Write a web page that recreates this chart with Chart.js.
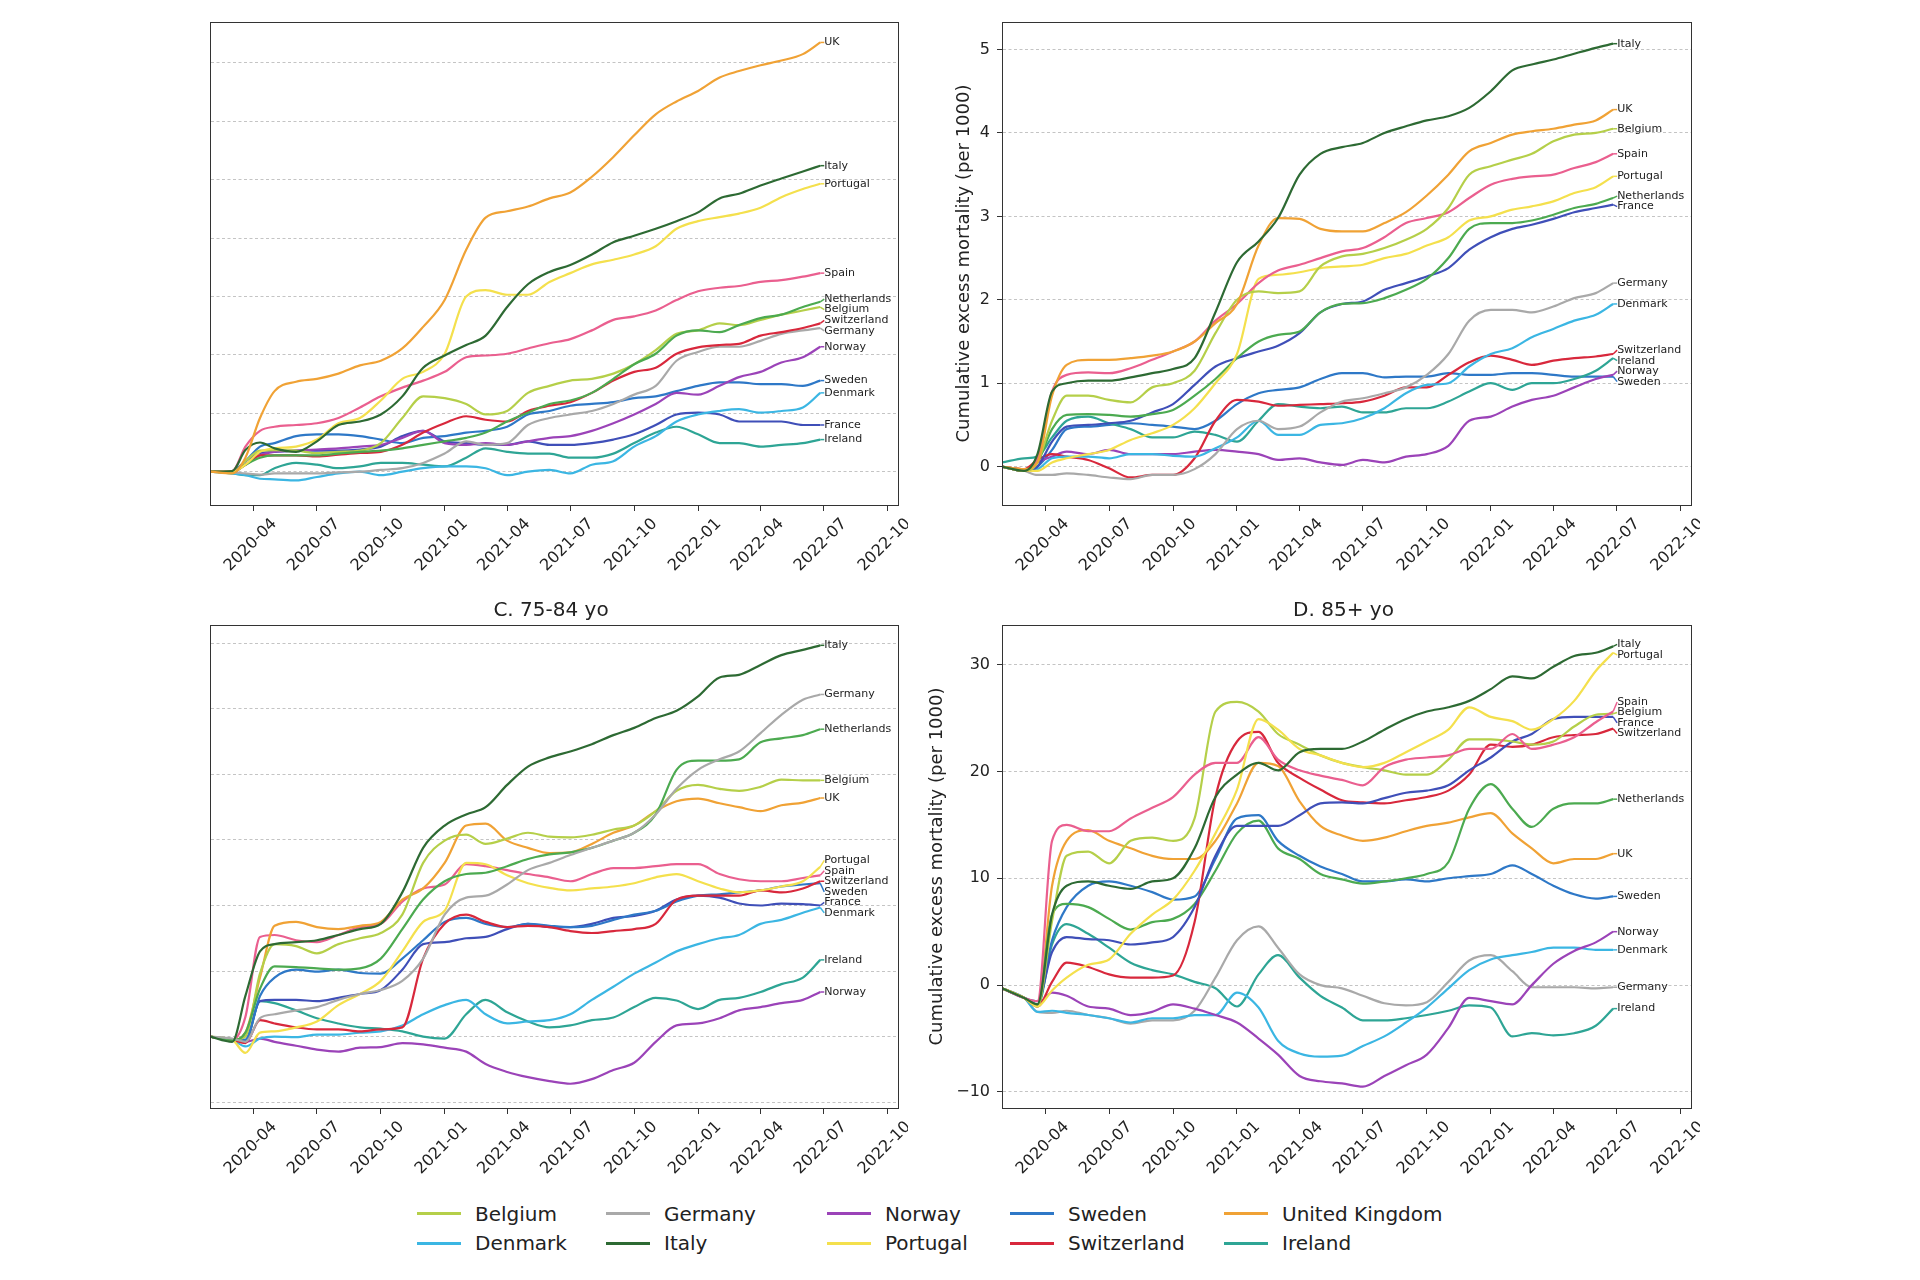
<!DOCTYPE html>
<html>
<head>
<meta charset="utf-8">
<script src="https://cdn.jsdelivr.net/npm/chart.js@4.4.1/dist/chart.umd.min.js"></script>
<style>
  html, body { margin: 0; padding: 0; background: #fff; }
  body { width: 1920px; height: 1280px; position: relative; overflow: hidden; font-family: "DejaVu Sans", sans-serif; }
  canvas { position: absolute; }
  .key { position: absolute; display: flex; align-items: center; font-size: 20px; color: #222; white-space: nowrap; transform: translateY(-50%); }
  .key i { display: inline-block; width: 44px; height: 3px; margin-right: 14px; }
</style>
</head>
<body>
<canvas id="chartA" width="800" height="600" style="left:108px;top:0"></canvas>
<canvas id="chartB" width="800" height="600" style="left:900px;top:0"></canvas>
<canvas id="chartC" width="800" height="610" style="left:108px;top:590px"></canvas>
<canvas id="chartD" width="800" height="610" style="left:900px;top:590px"></canvas>
<div id="legend"></div>
<script>
// sample dates (roughly monthly, denser around the spring 2020 jump)
const dates = ["2020-01-29","2020-03-01","2020-03-20","2020-04-10","2020-05-01","2020-06-01","2020-07-01","2020-08-01",
  "2020-09-01","2020-10-01","2020-11-01","2020-12-01","2021-01-01","2021-02-01","2021-03-01","2021-04-01","2021-05-01",
  "2021-06-01","2021-07-01","2021-08-01","2021-09-01","2021-10-01","2021-11-01","2021-12-01","2022-01-01","2022-02-01",
  "2022-03-01","2022-04-01","2022-05-01","2022-06-01","2022-06-26"];
const tickDates = ["2020-04-01","2020-07-01","2020-10-01","2021-01-01","2021-04-01","2021-07-01","2021-10-01",
  "2022-01-01","2022-04-01","2022-07-01","2022-10-01"];

// panel A (top left, y labels cropped away)
const aUK = [0,-0.03,0.24,0.92,1.38,1.54,1.59,1.68,1.82,1.90,2.11,2.48,2.94,3.80,4.35,4.46,4.54,4.68,4.78,5.05,5.39,5.76,6.12,6.34,6.52,6.75,6.86,6.96,7.04,7.15,7.35];
const aItaly = [0,0.01,0.37,0.50,0.40,0.34,0.52,0.80,0.86,0.98,1.29,1.78,1.99,2.17,2.33,2.82,3.21,3.42,3.54,3.72,3.93,4.04,4.16,4.29,4.44,4.68,4.76,4.90,5.02,5.14,5.24];
const aPortugal = [0,0,0.12,0.34,0.40,0.43,0.55,0.83,0.92,1.22,1.59,1.71,2.02,3.00,3.11,3.03,3.03,3.25,3.40,3.55,3.63,3.72,3.86,4.16,4.29,4.36,4.42,4.52,4.70,4.84,4.93];
const aSpain = [0,0.01,0.43,0.70,0.77,0.80,0.83,0.92,1.10,1.29,1.44,1.56,1.71,1.96,1.99,2.02,2.11,2.20,2.27,2.42,2.60,2.66,2.76,2.94,3.09,3.15,3.18,3.25,3.28,3.34,3.40];
const aNetherlands = [0,-0.01,0.12,0.24,0.28,0.28,0.28,0.31,0.34,0.36,0.40,0.46,0.52,0.58,0.67,0.86,1.01,1.16,1.22,1.35,1.59,1.84,2.02,2.33,2.42,2.39,2.51,2.63,2.69,2.82,2.91];
const aBelgium = [0,-0.01,0.18,0.36,0.37,0.36,0.32,0.34,0.36,0.49,0.92,1.29,1.26,1.16,0.98,1.04,1.35,1.47,1.56,1.59,1.68,1.84,2.08,2.36,2.42,2.54,2.51,2.60,2.69,2.76,2.82];
const aSwitzerland = [0,-0.01,0.12,0.28,0.28,0.28,0.26,0.29,0.32,0.34,0.46,0.67,0.83,0.95,0.89,0.86,1.04,1.13,1.19,1.35,1.56,1.71,1.78,2.02,2.13,2.17,2.19,2.33,2.39,2.46,2.54];
const aGermany = [0,-0.01,-0.03,-0.05,-0.03,-0.03,-0.03,-0.01,0,0.03,0.06,0.15,0.31,0.52,0.46,0.49,0.80,0.92,0.98,1.04,1.16,1.32,1.47,1.90,2.05,2.14,2.14,2.24,2.36,2.42,2.46];
const aNorway = [0,0.01,0.12,0.28,0.34,0.36,0.38,0.40,0.43,0.46,0.58,0.70,0.49,0.46,0.49,0.46,0.52,0.58,0.61,0.70,0.83,0.98,1.16,1.35,1.32,1.47,1.62,1.71,1.87,1.96,2.14];
const aSweden = [0,0.01,0.18,0.43,0.49,0.61,0.64,0.64,0.61,0.55,0.49,0.58,0.61,0.67,0.70,0.77,0.98,1.04,1.13,1.16,1.19,1.26,1.29,1.38,1.47,1.53,1.53,1.50,1.50,1.47,1.56];
const aDenmark = [0,-0.03,-0.06,-0.12,-0.13,-0.15,-0.09,-0.03,0,-0.06,0,0.06,0.09,0.09,0.06,-0.06,0,0.03,-0.03,0.12,0.18,0.43,0.61,0.86,0.98,1.04,1.07,1.01,1.04,1.10,1.35];
const aFrance = [0,0.01,0.18,0.32,0.34,0.36,0.36,0.36,0.38,0.43,0.61,0.70,0.52,0.49,0.46,0.46,0.52,0.46,0.46,0.49,0.55,0.64,0.80,0.98,1.01,0.98,0.86,0.86,0.86,0.80,0.80];
const aIreland = [0,-0.03,-0.06,-0.06,0.06,0.15,0.12,0.06,0.09,0.15,0.15,0.12,0.09,0.24,0.40,0.34,0.31,0.31,0.24,0.24,0.31,0.49,0.67,0.77,0.64,0.49,0.49,0.43,0.46,0.49,0.55];

// panel B (top right)
const bItaly = [0,-0.05,0.15,0.90,1.00,1.03,1.03,1.07,1.12,1.17,1.30,1.85,2.45,2.70,2.98,3.50,3.75,3.83,3.88,4.00,4.08,4.15,4.20,4.30,4.50,4.75,4.82,4.88,4.95,5.02,5.07];
const bUK = [0,-0.03,0.05,0.85,1.22,1.28,1.28,1.30,1.33,1.38,1.50,1.72,1.95,2.65,2.98,2.97,2.85,2.82,2.82,2.92,3.05,3.25,3.50,3.78,3.88,3.98,4.02,4.05,4.10,4.15,4.28];
const bBelgium = [0,-0.05,0.05,0.55,0.85,0.85,0.80,0.77,0.95,1.00,1.15,1.60,2.00,2.10,2.08,2.10,2.40,2.52,2.55,2.62,2.72,2.85,3.10,3.50,3.60,3.68,3.75,3.90,3.98,4.00,4.05];
const bSpain = [0,-0.05,0.10,0.90,1.10,1.13,1.12,1.18,1.28,1.38,1.50,1.75,1.95,2.20,2.35,2.42,2.50,2.58,2.62,2.75,2.92,2.98,3.05,3.22,3.38,3.45,3.48,3.50,3.58,3.65,3.75];
const bPortugal = [0,-0.05,-0.05,0.05,0.10,0.15,0.20,0.32,0.40,0.50,0.70,1.00,1.35,2.25,2.30,2.33,2.38,2.40,2.42,2.50,2.55,2.65,2.75,2.95,3.00,3.08,3.12,3.18,3.28,3.35,3.48];
const bNetherlands = [0,-0.05,0.05,0.45,0.62,0.63,0.62,0.60,0.63,0.68,0.85,1.05,1.30,1.50,1.58,1.62,1.85,1.95,1.96,2.02,2.12,2.25,2.50,2.85,2.92,2.92,2.95,3.02,3.10,3.15,3.22];
const bFrance = [0,-0.05,0,0.30,0.48,0.50,0.52,0.55,0.65,0.75,0.98,1.20,1.30,1.38,1.45,1.60,1.85,1.95,1.98,2.12,2.20,2.28,2.38,2.60,2.75,2.85,2.90,2.97,3.05,3.10,3.14];
const bGermany = [0,-0.05,-0.10,-0.10,-0.08,-0.10,-0.13,-0.15,-0.10,-0.10,-0.03,0.15,0.45,0.55,0.45,0.48,0.65,0.78,0.82,0.88,0.95,1.10,1.35,1.75,1.88,1.88,1.85,1.92,2.02,2.08,2.20];
const bDenmark = [0,-0.05,-0.03,0.10,0.12,0.12,0.10,0.15,0.15,0.13,0.12,0.22,0.35,0.55,0.38,0.38,0.50,0.52,0.58,0.70,0.88,0.98,1.00,1.20,1.35,1.42,1.55,1.65,1.75,1.82,1.95];
const bSwitzerland = [0,-0.03,0.08,0.15,0.12,0.08,-0.02,-0.13,-0.10,-0.10,0.10,0.55,0.80,0.78,0.73,0.74,0.75,0.76,0.78,0.85,0.95,0.95,1.10,1.25,1.33,1.28,1.22,1.27,1.30,1.32,1.35];
const bIreland = [0.05,0.10,0.12,0.35,0.55,0.60,0.52,0.45,0.35,0.35,0.42,0.38,0.30,0.55,0.75,0.72,0.70,0.72,0.65,0.65,0.70,0.70,0.78,0.90,1.00,0.92,1.00,1.00,1.05,1.15,1.30];
const bNorway = [0,-0.05,0.05,0.12,0.18,0.15,0.20,0.15,0.15,0.15,0.18,0.20,0.18,0.15,0.08,0.10,0.05,0.02,0.08,0.05,0.12,0.15,0.25,0.55,0.60,0.72,0.80,0.85,0.95,1.05,1.10];
const bSweden = [0,-0.05,0,0.20,0.45,0.48,0.50,0.52,0.50,0.48,0.45,0.55,0.75,0.88,0.92,0.95,1.05,1.12,1.12,1.07,1.08,1.08,1.12,1.10,1.10,1.12,1.12,1.10,1.08,1.08,1.08];

// panel C, 75-84 yo (y labels cropped away)
const cItaly = [0,-0.08,0.62,1.30,1.41,1.44,1.47,1.55,1.64,1.72,2.20,2.88,3.22,3.39,3.50,3.84,4.12,4.26,4.35,4.46,4.60,4.71,4.86,4.97,5.19,5.48,5.52,5.67,5.82,5.90,5.97];
const cGermany = [0,-0.03,-0.08,0.28,0.34,0.40,0.45,0.56,0.65,0.71,0.85,1.19,1.86,2.12,2.15,2.32,2.54,2.65,2.77,2.88,2.99,3.11,3.39,3.78,4.07,4.23,4.35,4.63,4.91,5.14,5.22];
const cNetherlands = [0,-0.05,0.06,0.73,1.07,1.06,1.04,1.02,1.04,1.19,1.64,2.09,2.37,2.48,2.50,2.60,2.71,2.78,2.81,2.88,2.99,3.11,3.39,4.07,4.21,4.21,4.23,4.49,4.55,4.60,4.69];
const cBelgium = [0,-0.05,0,0.96,1.41,1.38,1.27,1.41,1.50,1.58,1.86,2.65,2.99,3.08,2.94,3.02,3.11,3.05,3.04,3.08,3.16,3.22,3.44,3.75,3.84,3.78,3.75,3.81,3.92,3.91,3.91];
const cUK = [0,-0.05,0.06,0.90,1.69,1.75,1.67,1.64,1.69,1.75,2.09,2.26,2.65,3.22,3.25,2.99,2.88,2.80,2.81,2.94,3.11,3.22,3.44,3.59,3.63,3.56,3.50,3.44,3.53,3.57,3.64];
const cPortugal = [0,-0.05,-0.25,0.06,0.08,0.14,0.23,0.48,0.65,0.85,1.30,1.75,1.92,2.65,2.63,2.46,2.34,2.27,2.23,2.26,2.29,2.34,2.43,2.48,2.37,2.26,2.20,2.23,2.29,2.37,2.59];
const cSpain = [0,-0.05,0.30,1.52,1.55,1.47,1.44,1.55,1.67,1.72,2.06,2.26,2.32,2.63,2.60,2.54,2.48,2.43,2.37,2.48,2.57,2.57,2.60,2.63,2.63,2.48,2.40,2.37,2.37,2.42,2.46];
const cSwitzerland = [0,-0.05,-0.10,0.25,0.20,0.14,0.11,0.11,0.08,0.11,0.14,1.19,1.72,1.86,1.75,1.67,1.69,1.67,1.61,1.58,1.61,1.64,1.72,2.09,2.15,2.15,2.15,2.23,2.20,2.26,2.37];
const cSweden = [0,-0.05,-0.05,0.62,0.90,1.02,0.99,1.02,0.97,0.96,1.19,1.47,1.75,1.81,1.72,1.67,1.72,1.69,1.67,1.69,1.78,1.86,1.92,2.06,2.15,2.17,2.20,2.23,2.29,2.32,2.34];
const cFrance = [0,-0.05,-0.05,0.54,0.56,0.56,0.54,0.59,0.65,0.71,1.02,1.41,1.44,1.50,1.52,1.64,1.72,1.67,1.67,1.72,1.81,1.84,1.92,2.09,2.15,2.12,2.03,2.00,2.03,2.02,2.00];
const cDenmark = [0,-0.05,-0.15,-0.03,0,-0.01,0.03,0.03,0.06,0.08,0.17,0.34,0.48,0.56,0.34,0.20,0.23,0.25,0.34,0.56,0.76,0.96,1.13,1.30,1.41,1.50,1.55,1.72,1.78,1.89,1.97];
const cIreland = [0,-0.05,-0.08,0.54,0.51,0.40,0.28,0.20,0.14,0.12,0.08,0,-0.03,0.34,0.56,0.37,0.23,0.14,0.17,0.25,0.29,0.45,0.59,0.55,0.42,0.56,0.59,0.68,0.80,0.90,1.17];
const cNorway = [0,-0.05,-0.08,-0.03,-0.08,-0.14,-0.20,-0.23,-0.17,-0.16,-0.10,-0.12,-0.17,-0.23,-0.42,-0.54,-0.62,-0.68,-0.72,-0.65,-0.51,-0.40,-0.08,0.17,0.20,0.28,0.40,0.45,0.51,0.56,0.68];

// panel D, 85+ yo
const dItaly = [-0.3,-1.2,-1.8,6.6,9.3,9.7,9.3,9.0,9.7,10.0,12.8,17.6,19.7,20.8,20.1,21.8,22.1,22.1,22.8,23.9,24.9,25.6,26.0,26.6,27.7,28.9,28.7,29.8,30.8,31.1,31.7];
const dPortugal = [-0.3,-1.2,-2.0,-0.5,0.7,1.9,2.4,4.8,6.6,8.0,10.7,14.2,18.3,24.9,23.9,22.1,21.5,20.8,20.4,20.8,21.8,22.8,23.9,26.0,25.1,24.7,23.9,24.9,26.6,29.4,31.1];
const dSpain = [-0.3,-1.2,-1.5,13.5,15.0,14.4,14.4,15.6,16.6,17.6,19.7,20.8,20.8,23.2,21.1,20.1,19.6,19.2,18.7,20.4,21.1,21.3,21.5,22.1,22.1,23.5,22.1,22.5,23.2,24.6,25.6];
const dBelgium = [-0.3,-1.2,-2.0,6.0,12.1,12.5,11.4,13.5,13.8,13.5,15.6,25.6,26.5,25.6,23.5,22.5,21.5,20.8,20.4,20.1,19.7,19.7,21.1,23.0,23.0,22.8,22.5,22.8,24.2,25.3,25.4];
const dFrance = [-0.3,-1.2,-1.5,3.1,4.5,4.3,4.2,3.8,4.0,4.5,7.3,12.1,14.9,14.9,14.9,15.9,17.0,17.1,17.0,17.5,18.0,18.2,18.7,20.1,21.3,22.8,23.5,24.9,25.1,25.1,25.1];
const dSwitzerland = [-0.3,-1.2,-2.0,0.3,2.1,1.7,1.0,0.7,0.7,0.9,5.9,17.6,22.8,23.7,20.8,19.4,18.3,17.3,17.1,17.0,17.3,17.6,18.2,19.7,22.5,22.3,22.5,23.2,23.4,23.5,24.0];
const dNetherlands = [-0.3,-1.2,-1.8,6.6,7.6,7.3,6.2,5.2,5.9,6.2,7.6,10.7,14.2,15.4,12.8,11.8,10.4,9.9,9.5,9.7,10.0,10.4,11.5,16.5,18.8,16.5,14.8,16.5,17.0,17.0,17.4];
const dUK = [-0.3,-1.2,-2.0,9.3,13.5,14.5,13.5,12.8,12.1,11.8,11.8,13.5,17.0,20.8,20.5,17.2,14.9,14.0,13.5,13.8,14.4,14.9,15.2,15.7,16.1,14.2,12.8,11.4,11.8,11.8,12.3];
const dSweden = [-0.3,-1.2,-1.8,4.2,7.3,9.3,9.7,9.3,8.7,8.0,8.3,11.8,15.6,15.9,13.5,12.1,11.1,10.4,9.7,9.7,9.9,9.7,10.0,10.2,10.4,11.2,10.4,9.3,8.5,8.1,8.3];
const dGermany = [-0.3,-1.2,-2.5,-2.6,-2.4,-2.8,-3.1,-3.6,-3.3,-3.3,-2.4,0.7,4.2,5.5,3.5,1.0,0.0,-0.3,-1.0,-1.7,-1.9,-1.6,0.3,2.3,2.8,1.3,-0.2,-0.2,-0.2,-0.3,-0.2];
const dDenmark = [-0.3,-1.2,-2.5,-2.4,-2.6,-2.8,-3.1,-3.5,-3.1,-3.1,-2.8,-2.8,-0.7,-2.1,-5.2,-6.4,-6.7,-6.6,-5.7,-4.8,-3.5,-2.1,-0.3,1.4,2.4,2.8,3.1,3.5,3.5,3.3,3.3];
const dIreland = [-0.3,-1.2,-2.0,3.8,5.7,4.8,3.5,2.1,1.4,1.0,0.3,-0.3,-2.0,1.0,2.8,0.7,-1.0,-2.1,-3.3,-3.3,-3.1,-2.8,-2.4,-1.9,-2.1,-4.8,-4.5,-4.7,-4.5,-3.8,-2.2];
const dNorway = [-0.3,-1.2,-1.8,-0.7,-1.0,-2.0,-2.2,-2.8,-2.5,-1.8,-2.2,-2.8,-3.5,-5.0,-6.5,-8.5,-9.0,-9.2,-9.5,-8.5,-7.5,-6.5,-4.0,-1.2,-1.5,-1.8,0.0,2.0,3.2,4.0,5.0];

const legendRows = [
  ["Belgium", "Germany", "Norway", "Sweden", "United Kingdom"],
  ["Denmark", "Italy", "Portugal", "Switzerland", "Ireland"],
];

const colors = {
  Belgium: "#b5cf49", Denmark: "#3bb6e3", Germany: "#a9a9a9", Italy: "#2d6a33",
  Norway: "#9b43b8", Portugal: "#f4e04d", Sweden: "#2e78c7", Switzerland: "#d8283c",
  UK: "#f0a235", "United Kingdom": "#f0a235", Ireland: "#2ea595", France: "#3f4fb8",
  Spain: "#ea5f8f", Netherlands: "#4caa50",
};

const FONT = "DejaVu Sans";
Chart.defaults.font.family = FONT;

const toDay = (s) => (Date.parse(s) - Date.parse("2020-01-01")) / 86400000;
const xs = dates.map(toDay);
const tickDays = tickDates.map(toDay);

// axes box on all four sides, like matplotlib spines, plus the panel title
const frame = {
  id: "frame",
  afterDraw(chart, args, opts) {
    const { left, top, right, bottom } = chart.chartArea;
    const ctx = chart.ctx;
    ctx.save();
    ctx.strokeStyle = "#333";
    ctx.lineWidth = 1;
    ctx.strokeRect(Math.round(left) + 0.5, Math.round(top) + 0.5, Math.round(right - left), Math.round(bottom - top));
    if (opts.title) {
      ctx.font = `20px "${FONT}"`;
      ctx.fillStyle = "#222";
      ctx.textAlign = "center";
      ctx.textBaseline = "middle";
      ctx.fillText(opts.title, (left + right) / 2 - 3, top - 14);
    }
    ctx.restore();
  },
};

// rotated date labels, centred under each tick
const xLabels = {
  id: "xLabels",
  afterDraw(chart) {
    const sc = chart.scales.x;
    const ctx = chart.ctx;
    ctx.save();
    ctx.font = `16px "${FONT}"`;
    ctx.fillStyle = "#222";
    ctx.textAlign = "center";
    ctx.textBaseline = "middle";
    tickDates.forEach((d) => {
      const px = sc.getPixelForValue(toDay(d));
      ctx.save();
      ctx.translate(px - 3, chart.chartArea.bottom + 40);
      ctx.rotate(-Math.PI / 4);
      ctx.fillText(d.slice(0, 7), 0, 0);
      ctx.restore();
    });
    ctx.restore();
  },
};

// country name at the end of each line, nudged apart when crowded
const endLabels = {
  id: "endLabels",
  afterDatasetsDraw(chart) {
    const ctx = chart.ctx;
    const items = chart.data.datasets.map((ds, i) => {
      const pts = chart.getDatasetMeta(i).data;
      const pt = pts[pts.length - 1];
      return { x: pt.x, y: pt.y, ly: pt.y, text: ds.label, color: ds.borderColor };
    }).sort((a, b) => a.y - b.y);
    const gap = 10.5;
    for (let k = 0; k < 80; k++) {
      for (let i = 1; i < items.length; i++) {
        const d = items[i].ly - items[i - 1].ly;
        if (d < gap) {
          const s = (gap - d) / 2;
          items[i - 1].ly -= s;
          items[i].ly += s;
        }
      }
    }
    ctx.save();
    ctx.font = `11px "${FONT}"`;
    ctx.textBaseline = "middle";
    items.forEach((it) => {
      ctx.strokeStyle = it.color;
      ctx.lineWidth = 1.5;
      ctx.beginPath();
      ctx.moveTo(it.x, it.y);
      ctx.lineTo(it.x + 4, it.ly);
      ctx.stroke();
      ctx.fillStyle = "#222";
      ctx.fillText(it.text, it.x + 4, it.ly);
    });
    ctx.restore();
  },
};

function makeChart(id, series, o) {
  return new Chart(document.getElementById(id), {
    type: "line",
    data: {
      datasets: series.map(([name, values]) => ({
        label: name,
        data: values.map((v, i) => ({ x: xs[i], y: v })),
        borderColor: colors[name],
        borderWidth: 2.2,
        pointRadius: 0,
        cubicInterpolationMode: "monotone",
        fill: false,
      })),
    },
    options: {
      responsive: false,
      animation: false,
      layout: { padding: { top: o.padTop, left: o.padLeft, right: o.padRight, bottom: 0 } },
      plugins: {
        legend: { display: false },
        tooltip: { enabled: false },
        frame: { title: o.title },
      },
      scales: {
        x: {
          type: "linear",
          min: 28,
          max: 1019,
          afterBuildTicks: (s) => { s.ticks = tickDays.map((v) => ({ value: v })); },
          afterFit: (s) => { s.height = o.xHeight; },
          ticks: { display: false },
          grid: { drawOnChartArea: false, drawTicks: true, tickLength: 6, tickColor: "#333", color: "#333" },
          border: { color: "#333", width: 1 },
        },
        y: {
          min: o.yMin,
          max: o.yMax,
          afterBuildTicks: (s) => { s.ticks = o.yTicks.map((v) => ({ value: v })); },
          afterFit: (s) => { s.width = o.yWidth; },
          ticks: {
            display: o.showY,
            color: "#222",
            font: { family: FONT, size: 16 },
            padding: 7,
            callback: (v) => (v < 0 ? "\u2212" + Math.abs(v) : String(v)),
          },
          grid: { color: "#c4c4c4", lineWidth: 1, drawTicks: o.showY, tickLength: 5, tickColor: "#333", tickBorderDash: [] },
          border: { color: "#333", width: 1, dash: [3, 2.5] },
          title: {
            display: o.showY,
            text: "Cumulative excess mortality (per 1000)",
            color: "#222",
            font: { family: FONT, size: 18 },
            padding: { top: 4, bottom: 4 },
          },
        },
      },
    },
    plugins: [frame, endLabels, xLabels],
  });
}

makeChart("chartA", [
  ["UK", aUK], ["Italy", aItaly], ["Portugal", aPortugal], ["Spain", aSpain], ["Netherlands", aNetherlands],
  ["Belgium", aBelgium], ["Switzerland", aSwitzerland], ["Germany", aGermany], ["Norway", aNorway],
  ["Sweden", aSweden], ["Denmark", aDenmark], ["France", aFrance], ["Ireland", aIreland],
], { padTop: 22, padLeft: 0, padRight: 10, xHeight: 95, yWidth: 102, yMin: -0.57, yMax: 7.7, yTicks: [0, 1, 2, 3, 4, 5, 6, 7], showY: false });

makeChart("chartB", [
  ["Italy", bItaly], ["UK", bUK], ["Belgium", bBelgium], ["Spain", bSpain], ["Portugal", bPortugal],
  ["Netherlands", bNetherlands], ["France", bFrance], ["Germany", bGermany], ["Denmark", bDenmark],
  ["Switzerland", bSwitzerland], ["Ireland", bIreland], ["Norway", bNorway], ["Sweden", bSweden],
], { padTop: 22, padLeft: 50, padRight: 9, xHeight: 95, yWidth: 52, yMin: -0.46, yMax: 5.33, yTicks: [0, 1, 2, 3, 4, 5], showY: true });

makeChart("chartC", [
  ["Italy", cItaly], ["Germany", cGermany], ["Netherlands", cNetherlands], ["Belgium", cBelgium], ["UK", cUK],
  ["Portugal", cPortugal], ["Spain", cSpain], ["Switzerland", cSwitzerland], ["Sweden", cSweden],
  ["France", cFrance], ["Denmark", cDenmark], ["Ireland", cIreland], ["Norway", cNorway],
], { title: "C. 75-84 yo", padTop: 35, padLeft: 0, padRight: 10, xHeight: 92, yWidth: 102, yMin: -1.09, yMax: 6.28, yTicks: [-1, 0, 1, 2, 3, 4, 5, 6], showY: false });

makeChart("chartD", [
  ["Italy", dItaly], ["Portugal", dPortugal], ["Spain", dSpain], ["Belgium", dBelgium], ["France", dFrance],
  ["Switzerland", dSwitzerland], ["Netherlands", dNetherlands], ["UK", dUK], ["Sweden", dSweden],
  ["Norway", dNorway], ["Denmark", dDenmark], ["Germany", dGermany], ["Ireland", dIreland],
], { title: "D. 85+ yo", padTop: 35, padLeft: 23, padRight: 9, xHeight: 92, yWidth: 79, yMin: -11.5, yMax: 33.7, yTicks: [-10, 0, 10, 20, 30], showY: true });

// shared legend under the four panels
const legendX = [417, 606, 827, 1010, 1224];
const legendY = [1213.5, 1243];
const legend = document.getElementById("legend");
legendRows.forEach((row, r) => {
  row.forEach((name, c) => {
    const key = document.createElement("div");
    key.className = "key";
    key.style.left = legendX[c] + "px";
    key.style.top = legendY[r] + "px";
    key.innerHTML = `<i style="background:${colors[name]}"></i><span>${name}</span>`;
    legend.appendChild(key);
  });
});
</script>
</body>
</html>
